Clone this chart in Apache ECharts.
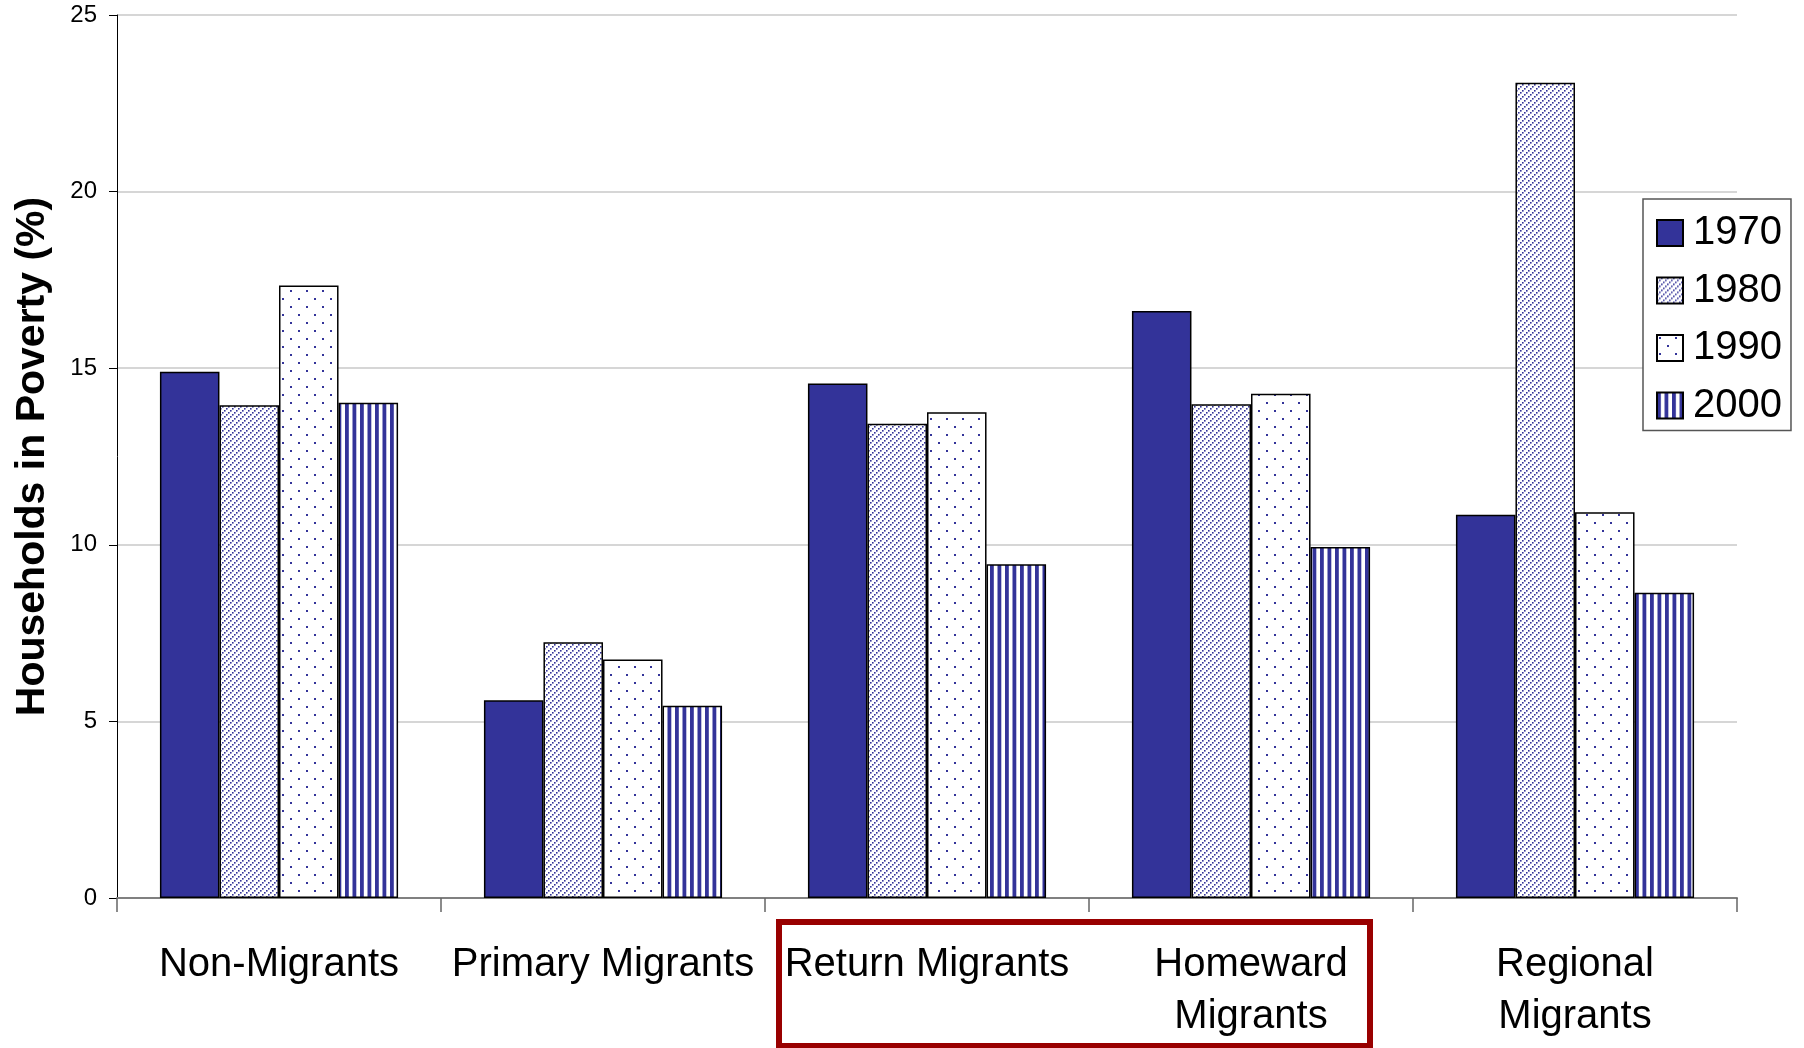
<!DOCTYPE html>
<html>
<head>
<meta charset="utf-8">
<script src="https://cdn.jsdelivr.net/npm/echarts@6/dist/echarts.min.js"></script>
<style>
  html, body { margin: 0; padding: 0; background: #fff; }
  #chart { width: 1804px; height: 1048px; }
</style>
</head>
<body>
<div id="chart"></div>
<script>
// Share of households in poverty by migrant group and census year
const categories = ['Non-Migrants', 'Primary Migrants', 'Return Migrants', 'Homeward\nMigrants', 'Regional\nMigrants'];
const years = ['1970', '1980', '1990', '2000'];
const v1970 = [14.9, 5.6, 14.57, 16.62, 10.85];
const v1980 = [13.95, 7.24, 13.43, 13.98, 23.08];
const v1990 = [17.34, 6.75, 13.75, 14.28, 10.92];
const v2000 = [14.02, 5.44, 9.45, 9.94, 8.64];
const yTicks = [0, 5, 10, 15, 20, 25];

const NAVY = '#333399';
const FONT = '"Liberation Sans", Arial, Helvetica, sans-serif';

// Fill patterns drawn on small tiles
function tile(w, h, draw) {
  const c = document.createElement('canvas');
  c.width = w; c.height = h;
  const ctx = c.getContext('2d');
  ctx.fillStyle = '#fff';
  ctx.fillRect(0, 0, w, h);
  ctx.fillStyle = NAVY;
  draw(ctx);
  return { image: c, repeat: 'repeat' };
}
// upward diagonal hatch made of small dots
const diagPattern = tile(6, 6, ctx => {
  ctx.fillRect(0, 4, 1.6, 1.6);
  ctx.fillRect(2, 2, 1.6, 1.6);
  ctx.fillRect(4, 0, 1.6, 1.6);
});
// sparse staggered dots
const dotPattern = tile(16, 16, ctx => {
  ctx.fillRect(2, 2, 2, 2);
  ctx.fillRect(10, 10, 2, 2);
});
// vertical stripes
const stripePattern = tile(15, 4, ctx => {
  ctx.fillRect(0, 0, 3.8, 4);
  ctx.fillRect(7.5, 0, 3.8, 4);
});

const fills = [NAVY, diagPattern, dotPattern, stripePattern];
const values = [v1970, v1980, v1990, v2000];

const chart = echarts.init(document.getElementById('chart'), null, { renderer: 'canvas' });

chart.setOption({
  animation: false,
  backgroundColor: '#fff',
  grid: { left: 117, right: 67, top: 15, bottom: 150 },
  legend: {
    orient: 'vertical',
    left: 1643,
    top: 199,
    padding: [14, 9, 5, 13],
    icon: 'rect',
    itemWidth: 26,
    itemHeight: 26,
    itemGap: 17.5,
    borderColor: '#555',
    borderWidth: 1.5,
    backgroundColor: '#fff',
    textStyle: { fontFamily: FONT, fontSize: 40, color: '#000', padding: [0, 0, 0, 5] },
    data: years
  },
  xAxis: {
    type: 'category',
    data: categories,
    axisLine: { lineStyle: { color: '#808080', width: 2 } },
    axisTick: { show: true, interval: 0, length: 14, lineStyle: { color: '#666', width: 1.5 } },
    axisLabel: { interval: 0, margin: 41, fontFamily: FONT, fontSize: 40, color: '#000', lineHeight: 52 }
  },
  yAxis: {
    type: 'value',
    min: yTicks[0],
    max: yTicks[yTicks.length - 1],
    interval: 5,
    name: 'Households in Poverty (%)',
    nameLocation: 'middle',
    nameRotate: 90,
    nameGap: 64,
    nameTextStyle: { fontFamily: FONT, fontSize: 41, fontWeight: 'bold', color: '#000' },
    axisLine: { show: true, lineStyle: { color: '#000', width: 1 } },
    axisTick: { show: true, length: 8, lineStyle: { color: '#000', width: 1 } },
    axisLabel: { margin: 20, fontFamily: FONT, fontSize: 24, color: '#000' },
    splitLine: { show: true, lineStyle: { color: '#c8c8c8', width: 1.5 } }
  },
  series: years.map((y, i) => ({
    name: y,
    type: 'bar',
    data: values[i],
    barGap: '0%',
    barCategoryGap: '26.5%',
    itemStyle: { color: fills[i], borderColor: '#000', borderWidth: 1.5 }
  })),
  graphic: [{
    type: 'rect',
    shape: { x: 779, y: 922, width: 591, height: 124 },
    style: { fill: 'none', stroke: '#990000', lineWidth: 6 },
    z: 10
  }]
});
</script>
</body>
</html>
